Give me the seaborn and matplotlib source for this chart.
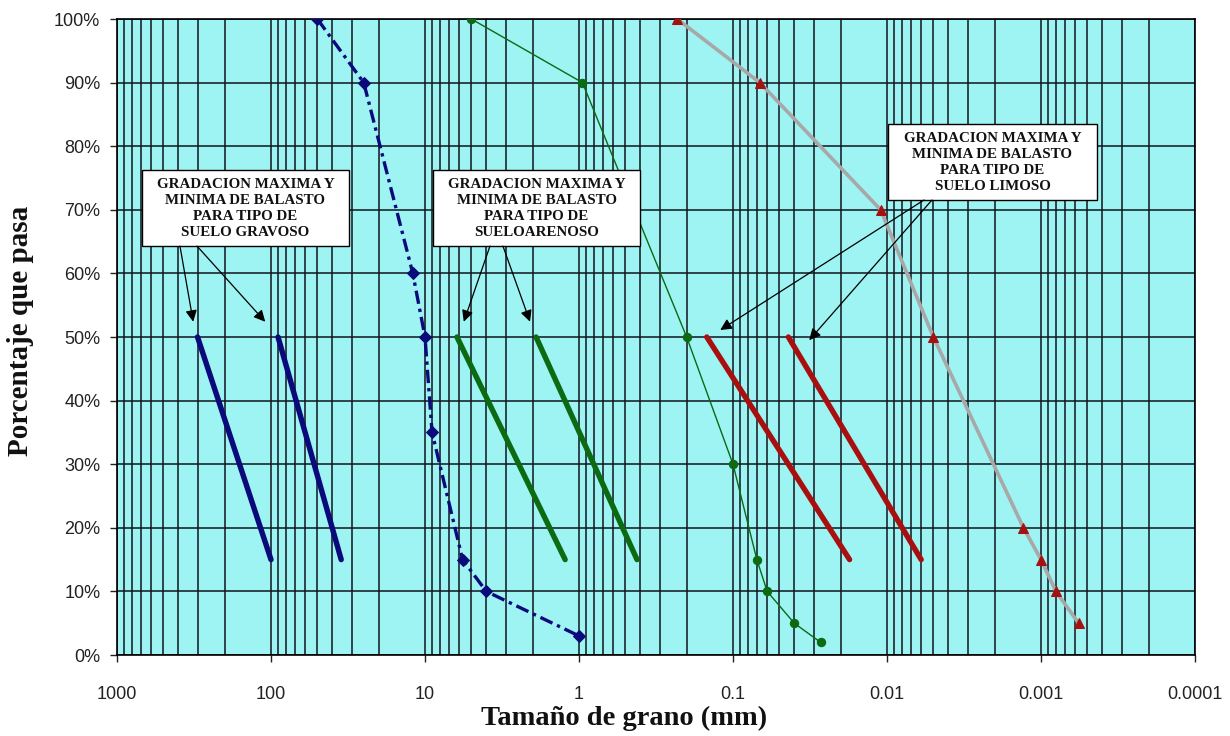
import matplotlib
matplotlib.use("Agg")
import matplotlib.pyplot as plt
import seaborn as sns
import numpy as np
import pandas as pd
from matplotlib.ticker import FixedLocator, LogLocator, NullFormatter
from matplotlib.patches import Rectangle

# ---------------- data ----------------
x_ticks = [1000, 100, 10, 1, 0.1, 0.01, 0.001, 0.0001]
x_tick_labels = ["1000", "100", "10", "1", "0.1", "0.01", "0.001", "0.0001"]
y_ticks = [0, 10, 20, 30, 40, 50, 60, 70, 80, 90, 100]
y_tick_labels = [f"{v}%" for v in y_ticks]

# gradation curves (size mm, % passing)
grava_mm = [50, 25, 12, 10, 9, 5.7, 4, 1]
grava_pct = [100, 90, 60, 50, 35, 15, 10, 3]

arena_mm = [5, 0.95, 0.2, 0.1, 0.07, 0.06, 0.04, 0.027]
arena_pct = [100, 90, 50, 30, 15, 10, 5, 2]

limo_mm = [0.23, 0.067, 0.011, 0.005, 0.0013, 0.001, 0.0008, 0.00057]
limo_pct = [100, 90, 70, 50, 20, 15, 10, 5]

# max / min ballast gradation bands
banda_pct = [50, 15]
grava_max_mm = [300, 100]
grava_min_mm = [90, 35]
arena_max_mm = [6.2, 1.23]
arena_min_mm = [1.9, 0.42]
limo_max_mm = [0.148, 0.0175]
limo_min_mm = [0.0437, 0.006]

box_text = ["GRADACION MAXIMA Y\nMINIMA DE BALASTO\nPARA TIPO DE\nSUELO GRAVOSO",
            "GRADACION MAXIMA Y\nMINIMA DE BALASTO\nPARA TIPO DE\nSUELOARENOSO",
            "GRADACION MAXIMA Y\nMINIMA DE BALASTO\nPARA TIPO DE\nSUELO LIMOSO"]

# ---------------- style ----------------
sns.set_theme(style="white")
plt.rcParams["font.family"] = ["Liberation Sans", "DejaVu Sans"]

BG = "#9EF3F3"
GRID = "#10161c"
NAVY = "#0a0a7a"
GREEN = "#0b6a12"
RED = "#a81010"

fig = plt.figure(figsize=(12.3, 7.36), dpi=100)
fig.patch.set_facecolor("white")
ax = fig.add_axes([117 / 1230, 81 / 736, 1078 / 1230, 636 / 736])
ax.set_facecolor(BG)
ax.set_xscale("log")
ax.set_xlim(1000, 0.0001)
ax.set_ylim(0, 100)

ax.xaxis.set_major_locator(FixedLocator(x_ticks))
ax.set_xticklabels(x_tick_labels)
ax.xaxis.set_minor_locator(LogLocator(base=10, subs=np.arange(2, 10), numticks=30))
ax.xaxis.set_minor_formatter(NullFormatter())
ax.set_yticks(y_ticks)
ax.set_yticklabels(y_tick_labels)

ax.set_axisbelow(True)
ax.grid(True, which="both", axis="x", color=GRID, lw=1.1)
ax.grid(True, which="major", axis="y", color=GRID, lw=1.1)

ax.tick_params(axis="x", which="major", bottom=True, direction="out", length=5,
               width=1, pad=17, labelsize=13, colors="#222222")
ax.tick_params(axis="x", which="minor", bottom=False, length=0)
ax.tick_params(axis="y", which="major", left=True, direction="out", length=5,
               width=1, pad=7, labelsize=13, colors="#222222")
for s in ax.spines.values():
    s.set_visible(True)
    s.set_color("black")
    s.set_linewidth(1.2)

# ---------------- curves ----------------
sns.lineplot(x=grava_mm, y=grava_pct, ax=ax, sort=False, estimator=None,
             color=NAVY, lw=2.4, dashes=False, linestyle=(0, (4, 1.5, 1, 1.5)),
             marker="D", markersize=6, markeredgecolor=NAVY, zorder=4)
sns.lineplot(x=arena_mm, y=arena_pct, ax=ax, sort=False, estimator=None,
             color=GREEN, lw=1.0, marker="o", markersize=6,
             markeredgecolor=GREEN, zorder=4)
sns.lineplot(x=limo_mm, y=limo_pct, ax=ax, sort=False, estimator=None,
             color="#a8a8a8", lw=2.6, marker="^", markersize=7,
             markerfacecolor=RED, markeredgecolor=RED, zorder=4)

for xs, col in [(grava_max_mm, NAVY), (grava_min_mm, NAVY),
                (arena_max_mm, GREEN), (arena_min_mm, GREEN),
                (limo_max_mm, RED), (limo_min_mm, RED)]:
    sns.lineplot(x=xs, y=banda_pct, ax=ax, sort=False, estimator=None,
                 color=col, lw=3.9, zorder=4)

# ---------------- annotation boxes ----------------
boxes = [(0.0229, 0.643, 0.1923, 0.1196),
         (0.2931, 0.643, 0.1921, 0.1196),
         (0.7152, 0.7154, 0.1939, 0.1195)]
for (bx, by, bw, bh), txt in zip(boxes, box_text):
    ax.add_patch(Rectangle((bx, by), bw, bh, transform=ax.transAxes,
                           facecolor="white", edgecolor="black", lw=1.0, zorder=6))
    ax.text(bx + bw / 2, by + bh / 2, txt, transform=ax.transAxes,
            ha="center", va="center", fontsize=10.8, fontweight="bold",
            family=["Liberation Serif", "DejaVu Serif"], linespacing=1.3,
            color="#111111", zorder=7)

arrows = [((320, 52.4), (0.0584, 0.643)),
          ((109, 52.4), (0.0742, 0.643)),
          ((5.6, 52.4), (0.346, 0.643)),
          ((2.08, 52.4), (0.358, 0.643)),
          ((0.121, 51.1), (0.7486, 0.7154)),
          ((0.032, 49.5), (0.756, 0.7154))]
for head, tail in arrows:
    ax.annotate("", xy=head, xycoords="data", xytext=tail,
                textcoords="axes fraction",
                arrowprops=dict(arrowstyle="-|>", color="black", lw=0.9,
                                mutation_scale=17, shrinkA=0, shrinkB=0),
                zorder=8)

# ---------------- axis labels ----------------
ax.set_xlabel("Tamaño de grano (mm)", fontsize=20.5, fontweight="bold",
              family=["Liberation Serif", "DejaVu Serif"], color="#111111")
ax.xaxis.set_label_coords(0.47, -0.08)
ax.set_ylabel("Porcentaje que pasa", fontsize=21, fontweight="bold",
              family=["Liberation Serif", "DejaVu Serif"], color="#111111")
ax.yaxis.set_label_coords(-0.077, 0.51)

fig.savefig("out.png", dpi=100, facecolor="white")
